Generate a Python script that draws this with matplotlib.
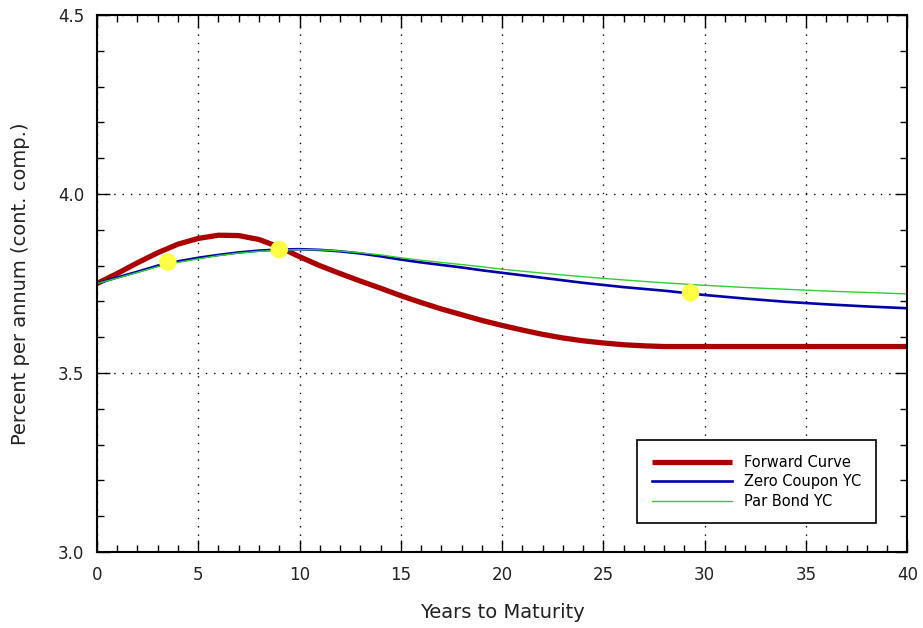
from matplotlib import pyplot as plt
from matplotlib.ticker import MultipleLocator

# forward curve (percent, cont. comp.)
fwd_years = [0, 1, 2, 3, 4, 5, 6, 7, 8, 9, 10, 11, 12, 13, 14, 15, 16, 17, 18, 19,
             20, 21, 22, 23, 24, 25, 26, 27, 28, 30, 35, 40]
fwd_rates = [3.750, 3.778, 3.808, 3.836, 3.860, 3.876, 3.885, 3.884, 3.873, 3.852,
             3.825, 3.800, 3.778, 3.757, 3.737, 3.716, 3.697, 3.679, 3.663, 3.647,
             3.633, 3.620, 3.608, 3.598, 3.590, 3.584, 3.579, 3.576, 3.574, 3.574,
             3.574, 3.574]

# zero coupon yield curve
zero_years = [0, 1, 2, 3, 4, 5, 6, 7, 8, 9, 10, 11, 12, 13, 14, 15, 16, 17, 18, 19,
              20, 22, 24, 26, 28, 30, 32, 34, 36, 38, 40]
zero_rates = [3.750, 3.767, 3.783, 3.800, 3.812, 3.822, 3.830, 3.837, 3.842, 3.845,
              3.846, 3.844, 3.840, 3.834, 3.826, 3.817, 3.809, 3.802, 3.795, 3.787,
              3.780, 3.766, 3.752, 3.740, 3.730, 3.718, 3.708, 3.699, 3.692, 3.686,
              3.681]

# par bond yield curve
par_years = zero_years
par_rates = [3.750, 3.765, 3.781, 3.797, 3.809, 3.819, 3.828, 3.835, 3.840, 3.843,
             3.845, 3.844, 3.841, 3.836, 3.830, 3.822, 3.815, 3.809, 3.803, 3.797,
             3.790, 3.779, 3.769, 3.760, 3.752, 3.745, 3.739, 3.734, 3.729, 3.725,
             3.721]

# observed bond points
bond_years = [3.5, 9.0, 29.3]
bond_rates = [3.810, 3.845, 3.724]

x_ticks = [0, 5, 10, 15, 20, 25, 30, 35, 40]
y_ticks = [3.0, 3.5, 4.0, 4.5]

fig = plt.figure(figsize=(9.23, 6.28), dpi=100)
ax = fig.add_axes([0.105, 0.121, 0.878, 0.855])

ax.plot(fwd_years, fwd_rates, color="#aa0000", lw=3.8, label="Forward Curve",
        solid_capstyle="butt")
ax.plot(zero_years, zero_rates, color="#0000aa", lw=1.9, label="Zero Coupon YC")
ax.plot(par_years, par_rates, color="#33cc33", lw=1.0, label="Par Bond YC")
ax.scatter(bond_years, bond_rates, s=160, color="#ffff44", edgecolors="none", zorder=5)

ax.set_xlim(0, 40)
ax.set_ylim(3.0, 4.5)
ax.set_xticks(x_ticks)
ax.set_yticks(y_ticks)
ax.set_yticklabels([f"{v:.1f}" for v in y_ticks])
ax.xaxis.set_minor_locator(MultipleLocator(1))
ax.yaxis.set_minor_locator(MultipleLocator(0.1))
ax.tick_params(which="both", direction="in", top=True, right=True, labelsize=12,
               colors="black", labelcolor="#222222")
ax.tick_params(which="major", length=9, width=1)
ax.tick_params(which="minor", length=5, width=1)
ax.tick_params(axis="x", pad=10)
ax.tick_params(axis="y", pad=9)
for s in ax.spines.values():
    s.set_linewidth(1.5)

ax.grid(True, which="major", color="black", linestyle=(0, (1, 5)), linewidth=1)

ax.set_xlabel("Years to Maturity", fontsize=14, labelpad=14, color="#222222")
ax.set_ylabel("Percent per annum (cont. comp.)", fontsize=14, labelpad=20,
              color="#222222")

leg = ax.legend(loc="lower right", bbox_to_anchor=(0.97, 0.04), fontsize=10.5,
                fancybox=False, edgecolor="black", framealpha=1, handlelength=5.5,
                borderpad=1.0, labelspacing=0.3)
leg.get_frame().set_linewidth(1.2)

plt.savefig("out.png", dpi=100)
